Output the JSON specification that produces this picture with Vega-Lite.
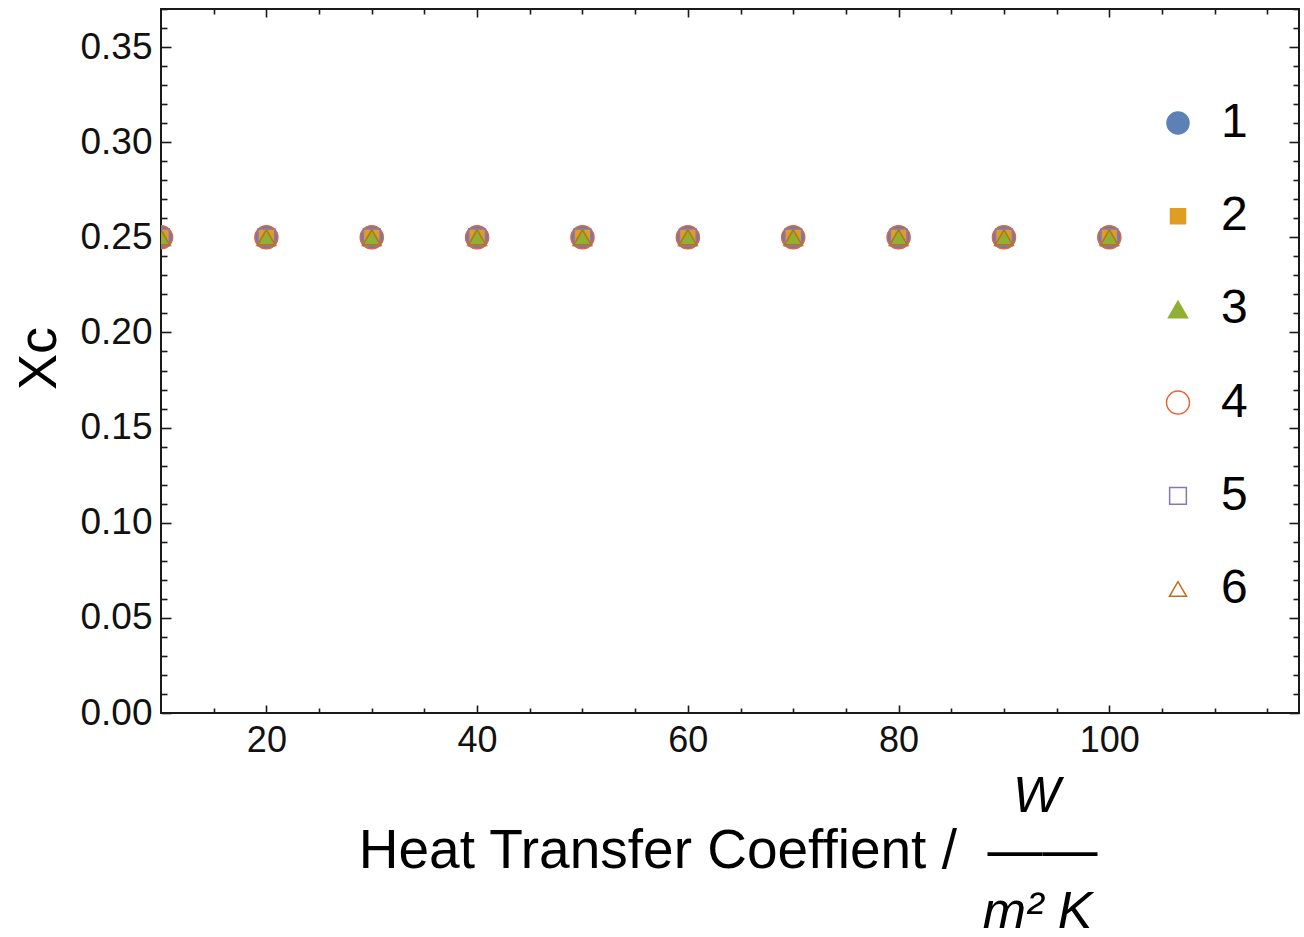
{
  "$schema": "https://vega.github.io/schema/vega-lite/v6.json",
  "width": 1138,
  "height": 704,
  "autosize": {"type": "none"},
  "padding": {"left": 161, "top": 9, "right": 5, "bottom": 224},
  "background": "white",
  "config": {
    "view": {"stroke": "#1a1a1a", "strokeWidth": 2},
    "axis": {
      "domain": false,
      "grid": false,
      "tickColor": "#1a1a1a",
      "tickWidth": 1.6,
      "labelFont": "Liberation Sans",
      "labelColor": "#111111",
      "labelFontSize": 36,
      "titleFont": "Liberation Sans",
      "titleFontWeight": "normal",
      "titleColor": "#000000",
      "titleFontSize": 52
    },
    "legend": {
      "orient": "none",
      "legendX": 993,
      "legendY": 90,
      "labelFont": "Liberation Sans",
      "labelFontSize": 48,
      "labelColor": "#000000",
      "labelOffset": 19,
      "rowPadding": 45.2,
      "symbolStrokeWidth": 1.5
    }
  },
  "data": {
    "values": [
      {"h": 10, "xc": 0.25, "s": "1"}, {"h": 20, "xc": 0.25, "s": "1"}, {"h": 30, "xc": 0.25, "s": "1"}, {"h": 40, "xc": 0.25, "s": "1"}, {"h": 50, "xc": 0.25, "s": "1"},
      {"h": 60, "xc": 0.25, "s": "1"}, {"h": 70, "xc": 0.25, "s": "1"}, {"h": 80, "xc": 0.25, "s": "1"}, {"h": 90, "xc": 0.25, "s": "1"}, {"h": 100, "xc": 0.25, "s": "1"},
      {"h": 10, "xc": 0.25, "s": "2"}, {"h": 20, "xc": 0.25, "s": "2"}, {"h": 30, "xc": 0.25, "s": "2"}, {"h": 40, "xc": 0.25, "s": "2"}, {"h": 50, "xc": 0.25, "s": "2"},
      {"h": 60, "xc": 0.25, "s": "2"}, {"h": 70, "xc": 0.25, "s": "2"}, {"h": 80, "xc": 0.25, "s": "2"}, {"h": 90, "xc": 0.25, "s": "2"}, {"h": 100, "xc": 0.25, "s": "2"},
      {"h": 10, "xc": 0.25, "s": "3"}, {"h": 20, "xc": 0.25, "s": "3"}, {"h": 30, "xc": 0.25, "s": "3"}, {"h": 40, "xc": 0.25, "s": "3"}, {"h": 50, "xc": 0.25, "s": "3"},
      {"h": 60, "xc": 0.25, "s": "3"}, {"h": 70, "xc": 0.25, "s": "3"}, {"h": 80, "xc": 0.25, "s": "3"}, {"h": 90, "xc": 0.25, "s": "3"}, {"h": 100, "xc": 0.25, "s": "3"},
      {"h": 10, "xc": 0.25, "s": "4"}, {"h": 20, "xc": 0.25, "s": "4"}, {"h": 30, "xc": 0.25, "s": "4"}, {"h": 40, "xc": 0.25, "s": "4"}, {"h": 50, "xc": 0.25, "s": "4"},
      {"h": 60, "xc": 0.25, "s": "4"}, {"h": 70, "xc": 0.25, "s": "4"}, {"h": 80, "xc": 0.25, "s": "4"}, {"h": 90, "xc": 0.25, "s": "4"}, {"h": 100, "xc": 0.25, "s": "4"},
      {"h": 10, "xc": 0.25, "s": "5"}, {"h": 20, "xc": 0.25, "s": "5"}, {"h": 30, "xc": 0.25, "s": "5"}, {"h": 40, "xc": 0.25, "s": "5"}, {"h": 50, "xc": 0.25, "s": "5"},
      {"h": 60, "xc": 0.25, "s": "5"}, {"h": 70, "xc": 0.25, "s": "5"}, {"h": 80, "xc": 0.25, "s": "5"}, {"h": 90, "xc": 0.25, "s": "5"}, {"h": 100, "xc": 0.25, "s": "5"},
      {"h": 10, "xc": 0.25, "s": "6"}, {"h": 20, "xc": 0.25, "s": "6"}, {"h": 30, "xc": 0.25, "s": "6"}, {"h": 40, "xc": 0.25, "s": "6"}, {"h": 50, "xc": 0.25, "s": "6"},
      {"h": 60, "xc": 0.25, "s": "6"}, {"h": 70, "xc": 0.25, "s": "6"}, {"h": 80, "xc": 0.25, "s": "6"}, {"h": 90, "xc": 0.25, "s": "6"}, {"h": 100, "xc": 0.25, "s": "6"}
    ]
  },
  "layer": [
    {
      "mark": {"type": "point", "clip": true, "strokeWidth": 1.5, "opacity": 1},
      "encoding": {
        "x": {
          "field": "h", "type": "quantitative",
          "scale": {"domain": [10, 118], "nice": false, "zero": false},
          "axis": {
            "orient": "bottom",
            "values": [20, 40, 60, 80, 100],
            "tickSize": -8,
            "labelPadding": 18,
            "title": "Heat Transfer Coeffient / \u00a0\u2014\u2014",
            "titleFontSize": 55,
            "titleX": 936,
            "titleY": 154,
            "titleAlign": "right",
            "titleBaseline": "alphabetic"
          }
        },
        "y": {
          "field": "xc", "type": "quantitative",
          "scale": {"domain": [0, 0.37], "nice": false, "zero": false},
          "axis": {
            "orient": "left",
            "values": [0, 0.05, 0.1, 0.15, 0.2, 0.25, 0.3, 0.35],
            "format": ".2f",
            "tickSize": -10,
            "labelPadding": 19,
            "labelFontSize": 37,
            "title": "Xc",
            "titleFontSize": 54,
            "titleAngle": -90,
            "titleX": -106,
            "titleY": 349,
            "titleAlign": "center",
            "titleBaseline": "alphabetic"
          }
        },
        "shape": {
          "field": "s", "type": "nominal", "title": null,
          "scale": {"domain": ["1", "2", "3", "4", "5", "6"], "range": ["circle", "square", "triangle-up", "circle", "square", "triangle-up"]}
        },
        "fill": {
          "field": "s", "type": "nominal", "title": null,
          "scale": {"domain": ["1", "2", "3", "4", "5", "6"], "range": ["#5E81B5", "#E19C24", "#8FB032", "transparent", "transparent", "transparent"]}
        },
        "stroke": {
          "field": "s", "type": "nominal", "title": null,
          "scale": {"domain": ["1", "2", "3", "4", "5", "6"], "range": ["#5E81B5", "#E19C24", "#8FB032", "#EB6235", "#8778B3", "#C56E1A"]}
        },
        "size": {
          "field": "s", "type": "nominal", "title": null,
          "scale": {"type": "ordinal", "domain": ["1", "2", "3", "4", "5", "6"], "range": [484, 225, 361, 529, 280, 290]}
        }
      }
    },
    {
      "mark": {"type": "point", "opacity": 0},
      "encoding": {
        "x": {
          "field": "h", "type": "quantitative",
          "scale": {"domain": [10, 118], "nice": false, "zero": false},
          "axis": {
            "orient": "bottom",
            "values": [15, 25, 30, 35, 45, 50, 55, 65, 70, 75, 85, 90, 95, 105, 110, 115],
            "tickSize": -5,
            "labels": false,
            "title": "W",
            "titleFontStyle": "italic",
            "titleFontSize": 50,
            "titleX": 875,
            "titleY": 98,
            "titleAlign": "center",
            "titleBaseline": "alphabetic"
          }
        },
        "y": {
          "field": "xc", "type": "quantitative",
          "scale": {"domain": [0, 0.37], "nice": false, "zero": false},
          "axis": {"orient": "left", "values": [0.01, 0.02, 0.03, 0.04, 0.06, 0.07, 0.08, 0.09, 0.11, 0.12, 0.13, 0.14, 0.16, 0.17, 0.18, 0.19, 0.21, 0.22, 0.23, 0.24, 0.26, 0.27, 0.28, 0.29, 0.31, 0.32, 0.33, 0.34, 0.36, 0.37], "tickSize": -6, "labels": false, "title": null}
        }
      }
    },
    {
      "mark": {"type": "point", "opacity": 0},
      "encoding": {
        "x": {
          "field": "h", "type": "quantitative",
          "scale": {"domain": [10, 118], "nice": false, "zero": false},
          "axis": {
            "orient": "top",
            "values": [20, 40, 60, 80, 100],
            "tickSize": -8,
            "labels": false,
            "title": "m\u00b2 K",
            "titleFontStyle": "italic",
            "titleFontSize": 52,
            "titleX": 876,
            "titleY": 918,
            "titleAlign": "center",
            "titleBaseline": "alphabetic"
          }
        },
        "y": {
          "field": "xc", "type": "quantitative",
          "scale": {"domain": [0, 0.37], "nice": false, "zero": false},
          "axis": {"orient": "right", "values": [0, 0.05, 0.1, 0.15, 0.2, 0.25, 0.3, 0.35], "tickSize": -10, "labels": false, "title": null}
        }
      }
    },
    {
      "mark": {"type": "point", "opacity": 0},
      "encoding": {
        "x": {
          "field": "h", "type": "quantitative",
          "scale": {"domain": [10, 118], "nice": false, "zero": false},
          "axis": {"orient": "top", "values": [15, 25, 30, 35, 45, 50, 55, 65, 70, 75, 85, 90, 95, 105, 110, 115], "tickSize": -5, "labels": false, "title": null}
        },
        "y": {
          "field": "xc", "type": "quantitative",
          "scale": {"domain": [0, 0.37], "nice": false, "zero": false},
          "axis": {"orient": "right", "values": [0.01, 0.02, 0.03, 0.04, 0.06, 0.07, 0.08, 0.09, 0.11, 0.12, 0.13, 0.14, 0.16, 0.17, 0.18, 0.19, 0.21, 0.22, 0.23, 0.24, 0.26, 0.27, 0.28, 0.29, 0.31, 0.32, 0.33, 0.34, 0.36, 0.37], "tickSize": -6, "labels": false, "title": null}
        }
      }
    }
  ],
  "resolve": {"axis": {"x": "independent", "y": "independent"}}
}
